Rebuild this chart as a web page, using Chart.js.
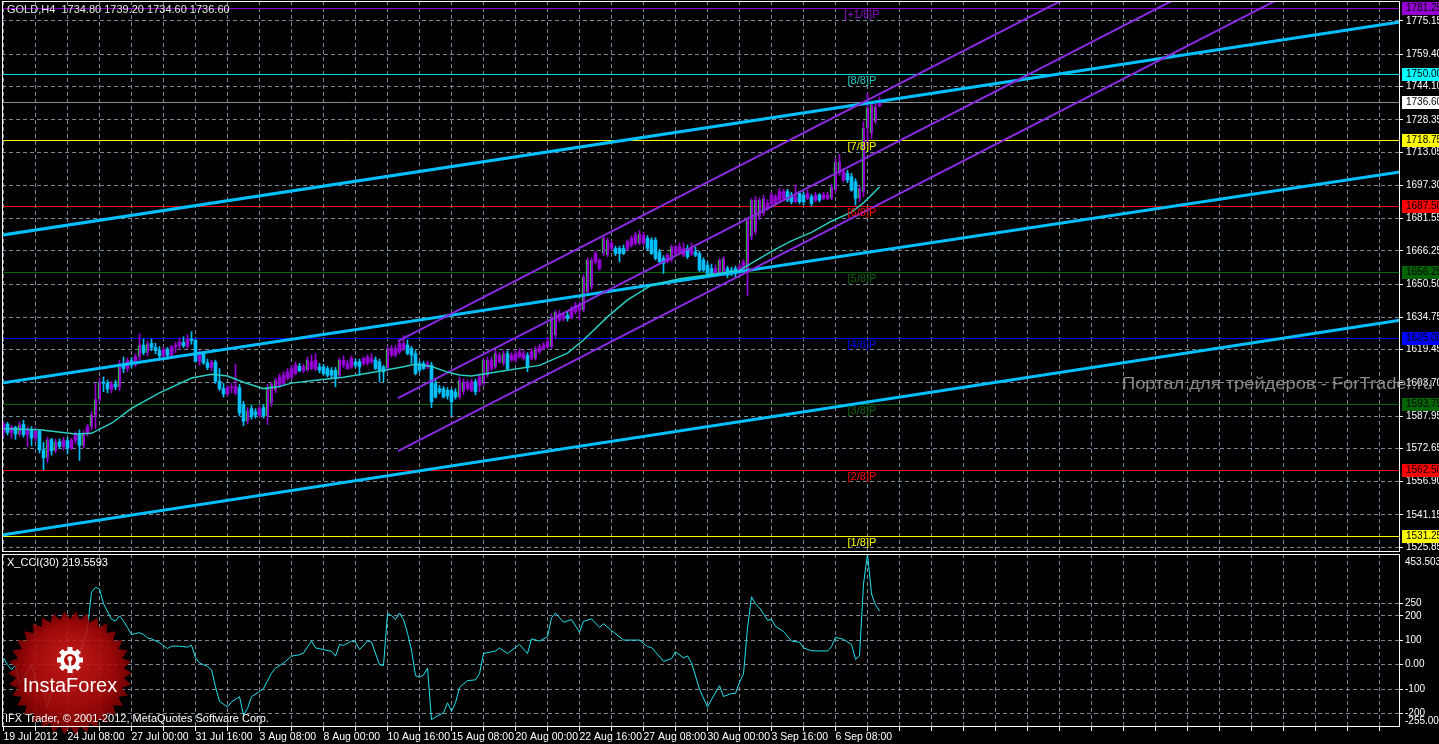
<!DOCTYPE html>
<html>
<head>
<meta charset="utf-8">
<script src="https://cdn.jsdelivr.net/npm/chart.js@4.4.1/dist/chart.umd.min.js"></script>
<style>
  html, body { margin: 0; padding: 0; background: #000; overflow: hidden; }
  #wrap { position: relative; width: 1439px; height: 744px; }
  canvas { position: absolute; left: 0; }
  #price { top: 0; }
  #cci { top: 553px; }
</style>
</head>
<body>
<div id="wrap">
  <canvas id="price" width="1439" height="553"></canvas>
  <canvas id="cci" width="1439" height="191"></canvas>
</div>
<script>
// GOLD H4 bars, 19 Jul 2012 -> 7 Sep 2012 (bar index 0..219)
const opens = [
  1580.5,1584.2,1580.2,1582.6,1579.4,1584.0,1579.2,1581.6,1577.6,1580.8,
  1572.0,1568.2,1576.8,1571.5,1575.8,1573.6,1576.4,1572.8,1576.5,1579.2,
  1574.0,1579.8,1583.0,1588.5,1596.0,1604.2,1603.5,1600.8,1603.2,1601.8,
  1612.8,1610.5,1614.2,1612.5,1616.2,1621.5,1618.0,1622.4,1620.5,1619.0,
  1616.5,1619.6,1616.8,1620.8,1621.5,1623.0,1621.2,1624.5,1623.8,1614.0,
  1617.5,1613.2,1611.0,1613.5,1604.5,1601.0,1598.5,1601.5,1599.0,1601.5,
  1593.5,1585.5,1591.5,1590.0,1588.5,1592.0,1588.2,1594.0,1600.2,1602.5,
  1603.5,1605.8,1606.5,1608.1,1611.5,1609.5,1609.7,1610.5,1610.5,1611.3,
  1611.3,1610.5,1609.7,1609.7,1607.3,1612.1,1610.5,1611.3,1613.7,1613.7,
  1612.9,1612.9,1613.7,1614.5,1613.7,1611.3,1610.5,1616.8,1617.0,1618.4,
  1620.0,1621.6,1620.0,1617.6,1612.9,1612.9,1611.3,1612.1,1603.4,1601.0,
  1601.0,1600.2,1600.2,1599.4,1597.0,1599.5,1601.0,1600.2,1604.2,1602.6,
  1603.4,1607.3,1610.5,1611.3,1613.7,1612.9,1617.6,1614.5,1614.5,1616.0,
  1615.3,1616.8,1615.3,1615.3,1618.4,1620.0,1620.8,1620.8,1626.3,1633.4,
  1634.2,1635.8,1635.0,1637.4,1638.2,1638.2,1646.8,1649.2,1661.0,1657.9,
  1665.0,1664.2,1667.4,1667.4,1667.4,1667.4,1667.4,1669.0,1669.8,1669.8,
  1669.8,1672.2,1671.4,1671.4,1665.8,1662.7,1661.1,1661.9,1665.0,1665.8,
  1664.2,1667.4,1665.0,1665.8,1665.0,1661.9,1659.5,1657.9,1655.5,1655.5,
  1655.5,1657.9,1657.1,1657.9,1656.3,1657.1,1657.1,1672.9,1675.3,1682.4,
  1684.0,1686.4,1688.7,1688.7,1690.3,1691.1,1694.3,1692.7,1689.5,1693.5,
  1692.7,1691.1,1691.9,1690.3,1692.7,1691.1,1691.1,1691.1,1695.0,1703.0,
  1699.8,1703.0,1701.4,1699.0,1691.1,1694.3,1724.5,1722.0,1727.4,1734.8
];
const highs = [
  1585.5,1585.0,1583.5,1583.2,1585.2,1586.0,1582.8,1583.0,1582.5,1581.5,
  1575.5,1578.0,1577.5,1577.0,1577.2,1577.8,1578.0,1577.5,1580.5,1581.5,
  1581.0,1584.0,1590.0,1603.5,1606.0,1606.5,1605.0,1604.5,1605.0,1614.5,
  1616.0,1615.5,1615.8,1617.5,1627.0,1624.5,1623.5,1624.5,1622.5,1621.0,
  1620.5,1620.5,1621.5,1623.0,1625.0,1625.5,1626.5,1628.0,1624.5,1619.0,
  1618.5,1615.0,1614.5,1614.5,1610.5,1603.5,1602.5,1603.5,1612.5,1603.0,
  1595.0,1592.0,1593.0,1591.5,1593.0,1593.5,1603.0,1604.0,1606.0,1608.0,
  1609.0,1610.5,1612.0,1613.5,1613.0,1612.5,1616.0,1617.0,1617.6,1613.0,
  1612.5,1611.5,1611.0,1611.0,1615.5,1616.5,1614.5,1616.5,1615.0,1615.0,
  1616.0,1617.0,1617.5,1616.0,1615.0,1612.0,1621.0,1621.5,1621.5,1623.5,
  1626.0,1624.0,1621.0,1619.0,1614.0,1614.0,1614.0,1613.5,1605.0,1602.5,
  1602.0,1601.5,1601.0,1601.0,1606.5,1605.5,1605.0,1605.5,1605.5,1608.0,
  1615.0,1616.0,1616.0,1619.0,1618.0,1619.0,1619.0,1618.0,1619.0,1620.0,
  1619.0,1618.0,1620.0,1621.0,1622.0,1623.0,1625.0,1636.5,1638.0,1638.0,
  1637.0,1637.5,1640.0,1642.0,1642.0,1655.0,1663.0,1663.0,1666.0,1662.5,
  1673.0,1672.5,1671.0,1668.5,1668.5,1669.0,1671.5,1673.5,1675.0,1676.0,
  1675.0,1673.5,1672.5,1672.5,1667.0,1664.0,1665.0,1669.0,1669.0,1670.0,
  1670.0,1669.0,1670.0,1668.0,1666.0,1663.0,1661.0,1660.0,1659.5,1662.5,
  1663.5,1659.0,1658.5,1659.0,1660.0,1662.0,1682.0,1691.0,1692.0,1691.5,
  1692.5,1690.5,1694.0,1693.0,1696.0,1695.5,1695.5,1694.0,1697.5,1694.5,
  1694.0,1695.0,1693.0,1694.0,1693.5,1694.0,1694.0,1698.0,1710.0,1712.0,
  1705.0,1704.5,1703.0,1700.5,1697.0,1727.5,1741.0,1737.0,1737.5,1739.2
];
const lows = [
  1578.5,1579.0,1577.5,1577.0,1578.5,1578.0,1573.5,1574.0,1576.0,1570.5,
  1562.5,1566.0,1569.5,1570.5,1572.5,1572.0,1570.0,1572.0,1575.0,1567.0,
  1573.0,1578.5,1581.5,1582.0,1594.5,1599.5,1599.0,1599.0,1600.5,1600.0,
  1608.5,1609.0,1611.0,1611.5,1614.5,1617.0,1616.5,1619.0,1617.5,1614.5,
  1615.5,1615.0,1615.5,1618.0,1619.5,1620.5,1620.0,1622.0,1613.5,1612.0,
  1612.5,1610.0,1609.5,1603.5,1600.0,1597.0,1597.5,1599.0,1598.0,1588.0,
  1583.5,1584.5,1586.5,1587.0,1587.5,1587.0,1584.0,1592.5,1599.0,1601.5,
  1602.5,1605.0,1605.5,1607.5,1609.0,1608.5,1609.0,1610.0,1609.5,1608.5,
  1607.5,1606.5,1606.0,1601.8,1606.5,1611.0,1610.0,1610.5,1611.0,1607.3,
  1612.0,1612.0,1613.0,1610.0,1604.2,1604.2,1609.5,1616.0,1616.0,1617.5,
  1619.0,1617.0,1612.9,1607.5,1609.0,1610.0,1610.5,1592.0,1596.5,1598.5,
  1596.5,1596.0,1588.4,1596.0,1596.0,1598.0,1600.0,1599.5,1598.0,1599.5,
  1602.5,1606.5,1609.5,1610.5,1613.0,1612.0,1610.0,1614.0,1613.5,1615.5,
  1614.5,1609.0,1614.5,1614.5,1617.5,1619.5,1620.0,1620.0,1625.0,1632.5,
  1633.0,1633.0,1634.0,1636.5,1633.4,1637.5,1646.0,1648.0,1660.0,1657.0,
  1664.0,1663.5,1666.5,1664.0,1661.0,1664.5,1666.5,1668.0,1669.0,1669.0,
  1669.0,1666.5,1664.5,1662.0,1660.5,1655.5,1660.5,1661.0,1664.5,1665.0,
  1663.5,1662.5,1664.0,1663.5,1656.5,1656.5,1655.0,1655.0,1655.0,1654.5,
  1654.5,1653.5,1654.5,1654.0,1655.5,1656.5,1645.0,1671.5,1674.0,1681.0,
  1683.0,1685.5,1688.0,1688.0,1689.5,1690.5,1689.5,1688.5,1689.0,1688.5,
  1688.0,1690.5,1687.5,1689.5,1689.5,1690.5,1690.5,1690.5,1694.0,1702.0,
  1699.0,1698.5,1694.5,1687.9,1689.5,1692.0,1716.0,1719.5,1726.5,1734.6
];
const closes = [
  1584.2,1580.2,1582.6,1579.4,1584.0,1579.2,1581.6,1577.6,1580.8,1572.0,
  1568.2,1576.8,1571.5,1575.8,1573.6,1576.4,1572.8,1576.5,1579.2,1574.0,
  1579.8,1583.0,1588.5,1596.0,1604.2,1603.5,1600.8,1603.2,1601.8,1612.8,
  1610.5,1614.2,1612.5,1616.2,1621.5,1618.0,1622.4,1620.5,1619.0,1616.5,
  1619.6,1616.8,1620.8,1621.5,1623.0,1621.2,1624.5,1623.8,1614.0,1617.5,
  1613.2,1611.0,1613.5,1604.5,1601.0,1598.5,1601.5,1601.8,1602.0,1589.5,
  1585.5,1590.5,1587.8,1588.5,1591.5,1588.2,1601.8,1603.4,1605.0,1606.5,
  1607.3,1608.9,1610.5,1612.1,1609.5,1611.5,1614.5,1613.7,1614.5,1609.7,
  1608.1,1607.3,1607.3,1605.8,1614.5,1614.5,1612.9,1615.3,1612.1,1611.3,
  1615.3,1616.0,1615.3,1610.5,1609.7,1608.9,1620.0,1620.0,1620.0,1622.4,
  1622.4,1617.6,1616.8,1608.1,1609.7,1610.5,1612.9,1594.7,1597.0,1599.4,
  1597.0,1597.5,1594.7,1597.0,1605.0,1604.2,1603.8,1604.2,1599.5,1606.5,
  1614.5,1614.5,1614.5,1617.6,1616.8,1617.6,1610.5,1616.8,1617.6,1618.4,
  1617.6,1611.3,1618.4,1620.0,1620.8,1621.6,1623.2,1635.0,1637.4,1636.6,
  1635.8,1634.2,1639.0,1640.5,1640.5,1654.0,1661.9,1661.9,1665.0,1661.9,
  1672.2,1671.4,1669.8,1665.0,1665.0,1665.0,1670.6,1672.2,1673.7,1674.5,
  1673.7,1667.4,1665.0,1662.7,1661.1,1660.3,1664.2,1668.2,1668.2,1668.2,
  1667.4,1663.5,1667.4,1664.2,1657.1,1657.1,1655.5,1655.5,1657.9,1661.9,
  1662.7,1654.8,1655.5,1655.5,1658.7,1661.1,1680.8,1690.3,1690.3,1690.3,
  1691.1,1688.7,1692.7,1691.9,1694.3,1694.3,1690.3,1689.5,1691.9,1689.5,
  1689.5,1693.5,1688.7,1692.7,1690.3,1692.7,1692.7,1696.6,1708.5,1708.5,
  1703.8,1699.8,1695.0,1691.1,1695.8,1724.5,1734.0,1735.3,1734.5,1736.6
];

// moving average (bar index, price)
const maBars = [0,9,18,22,27,32,39,47,52,56, 60,65,69,72,78,85,91,99,103,107,
  111,114,117,126,134,141,145,151,156,162, 169,176,184,192,197,202,207,212,215,219];
const maValues = [1582,1581.5,1579.5,1579.8,1584.6,1591.6,1599,1606,1607.8,1607,
  1604,1601,1602,1603.6,1605,1606.4,1608.3,1611,1612.5,1611.5,
  1608.8,1607.4,1607,1609.7,1612,1617.8,1624,1635,1643,1650,
  1653,1654.8,1657,1666,1671,1675,1680.3,1684.6,1689,1696.5];

// X_CCI(30) (bar index, value)
const cciBars = [0,1,2,3,4,5,7,8,10,11, 12,14,16,17,19,21,22,23,24,25,
  27,28,29,30,31,32,34,35,36,37, 39,41,42,44,46,47,48,49,51,52,
  53,54,56,57,59,60,61,62,64,65, 67,68,70,72,74,75,77,78,80,82,
  83,84,85,87,88,89,91,92,94,95, 96,97,98,99,100,101,102,103,104,105,
  106,107,108,110,111,112,113,114,116,118, 119,120,122,123,124,126,129,131,132,134,
  136,137,138,140,142,144,145,147,149,150, 152,155,159,161,162,165,167,168,170,171,
  172,174,176,177,179,180,182,183,184,185, 186,187,188,189,191,192,193,195,197,199,
  200,202,206,207,208,210,212,213,214,215, 216,217,218,219];
const cciValues = [28,0,-20,0,-76,-55,0,-62,-104,-173, -104,-76,-62,-48,35,150,297,317,310,250,
  186,179,200,179,152,124,131,124,110,106, 90,66,76,76,72,80,28,7,-7,-21,
  -90,-150,-173,-152,-131,-207,-179,-131,-110,-97, -35,-14,7,35,41,48,97,69,62,55,
  35,83,79,97,93,62,97,93,0,-3, 210,201,185,212,185,129,60,-44,-51,-42,
  -14,-225,-214,-197,-156,-190,-156,-93,-65,-62, -37,46,53,56,69,46,83,46,106,97,
  115,192,212,174,185,133,178,188,153,168, 140,101,101,74,71,14,25,53,28,36,
  8,-100,-174,-142,-86,-130,-118,-117,-72,-37, 150,278,250,233,183,185,157,136,97,92,
  69,57,56,74,112,104,83,22,36,330, 453.5,290,245,219.5593];

// trend lines drawn on the chart: [bar, price] end points
const blueLines = [
  [[-0.4, 1673.7], [349.1, 1774.7]],
  [[-0.4, 1603.6], [349.1, 1703.6]],
  [[-0.4, 1531.6], [349.1, 1633.4]]
];
const purpleLines = [
  [[98.6, 1623.5], [349.1, 1867.1]],
  [[98.6, 1596.5], [349.1, 1840.1]],
  [[98.6, 1571.4], [349.1, 1815.0]]
];

// Murrey math levels
const murreyLevels = [1781.25, 1750.00, 1718.75, 1687.50, 1656.25, 1625.00, 1593.75, 1562.50, 1531.25];
const murreyLabels = ['[+1/8]P', '[8/8]P', '[7/8]P', '[6/8]P', '[5/8]P', '[4/8]P', '[3/8]P', '[2/8]P', '[1/8]P'];
const murreyLineColors = ['#9400d3', '#00e0e0', '#ffff00', '#ff0000', '#0a640a', '#0000ff', '#0a640a', '#ff0000', '#ffff00'];
const murreyBoxColors  = ['#9400d3', '#00ffff', '#ffff00', '#ff0000', '#006400', '#0000ff', '#006400', '#ff0000', '#ffff00'];
const murreyTextColors = ['#8a10c8', '#20c8c8', '#ffff00', '#ff0000', '#0a640a', '#0000ff', '#0a640a', '#ff0000', '#ffff00'];

// axis ticks
const priceTicks = [1775.15, 1759.40, 1744.10, 1728.35, 1713.05, 1697.30, 1681.55, 1666.25, 1650.50,
  1634.75, 1619.45, 1603.70, 1587.95, 1572.65, 1556.90, 1541.15, 1525.85];
const priceMin = 1523.6, priceMax = 1784.62;
const cciTicks = [250, 200, 100, 0, -100, -200];
const cciMin = -255.001, cciMax = 453.503;
const timeTickBars = [0, 16, 32, 48, 64, 80, 96, 112, 128, 144, 160, 176, 192, 208];
const timeLabels = ['19 Jul 2012', '24 Jul 08:00', '27 Jul 00:00', '31 Jul 16:00', '3 Aug 08:00', '8 Aug 00:00',
  '10 Aug 16:00', '15 Aug 08:00', '20 Aug 00:00', '22 Aug 16:00', '27 Aug 08:00', '30 Aug 00:00', '3 Sep 16:00', '6 Sep 08:00'];

const FONT = '"Liberation Sans", Arial, sans-serif';
Chart.defaults.font.family = FONT;
Chart.defaults.font.size = 10;
Chart.defaults.color = '#ffffff';
Chart.defaults.animation = false;

const GRID = '#778899';
const BULL = '#9400d3';
const BEAR = '#00bfff';
const xMin = -0.375, xMax = 349.125;
const murreyLabelBar = 214.6;

const gridBars = [];
for (let b = 0; b <= 344; b += 8) gridBars.push(b);

const last = closes.length - 1;
const isBull = i => closes[i] >= opens[i];
// the terminal shows the lime bar-up edge on the longer white candles
const showEdge = i => isBull(i) && closes[i] - opens[i] > 4;

function xAxis(withLabels) {
  return {
    type: 'linear', min: xMin, max: xMax, offset: false,
    grid: { color: GRID, offset: false, drawTicks: withLabels, tickLength: 4, tickColor: '#ffffff' },
    border: { display: false, dash: [4, 3] },
    ticks: {
      display: withLabels, autoSkip: false, maxRotation: 0, minRotation: 0, align: 'start', padding: 0,
      color: '#ffffff', font: { size: 10.5 },
      callback: v => { const k = timeTickBars.indexOf(v); return k >= 0 ? timeLabels[k] : ''; }
    },
    afterBuildTicks: s => { s.ticks = gridBars.map(v => ({ value: v })); },
    afterFit: s => { s.height = withLabels ? 17 : 0; s.paddingLeft = 0; s.paddingRight = 0; }
  };
}

function lineSet(seg, color, width, order) {
  return {
    type: 'line', data: seg.map(p => ({ x: p[0], y: p[1] })),
    borderColor: color, borderWidth: width, pointRadius: 0, tension: 0, order: order, clip: 0
  };
}

function frame(ctx, a) {
  ctx.save();
  ctx.strokeStyle = '#ffffff';
  ctx.lineWidth = 1;
  ctx.strokeRect(a.left + 0.5, a.top + 0.5, a.right - a.left - 1, a.bottom - a.top - 1);
  ctx.restore();
}

const priceDecor = {
  id: 'priceDecor',
  beforeDatasetsDraw(chart) {
    const { ctx, chartArea: a, scales: { y } } = chart;
    ctx.save();
    ctx.lineWidth = 1;
    murreyLevels.forEach((lv, k) => {
      const py = Math.round(y.getPixelForValue(lv)) + 0.5;
      ctx.strokeStyle = murreyLineColors[k];
      ctx.beginPath(); ctx.moveTo(a.left, py); ctx.lineTo(a.right, py); ctx.stroke();
    });
    const by = Math.round(y.getPixelForValue(closes[last])) + 0.5;
    ctx.strokeStyle = '#8c8c8c';
    ctx.beginPath(); ctx.moveTo(a.left, by); ctx.lineTo(a.right, by); ctx.stroke();
    ctx.restore();
  },
  afterDatasetsDraw(chart) {
    const { ctx, scales: { x, y } } = chart;
    ctx.save();
    ctx.font = '11px ' + FONT;
    ctx.textAlign = 'center';
    ctx.textBaseline = 'middle';
    const lx = x.getPixelForValue(murreyLabelBar);
    murreyLevels.forEach((lv, k) => {
      ctx.fillStyle = murreyTextColors[k];
      ctx.fillText(murreyLabels[k], lx, y.getPixelForValue(lv) + 7);
    });
    ctx.restore();
  },
  afterDraw(chart) {
    const { ctx, chartArea: a, scales: { y } } = chart;
    frame(ctx, a);
    ctx.save();
    ctx.font = '10px ' + FONT;
    ctx.textBaseline = 'middle';
    ctx.textAlign = 'left';
    const box = (val, bg) => {
      const py = Math.round(y.getPixelForValue(val));
      ctx.fillStyle = bg;
      ctx.fillRect(a.right + 2, py - 6, 40, 13);
      ctx.fillStyle = '#000000';
      ctx.fillText(val.toFixed(2), a.right + 6, py + 0.5);
    };
    murreyLevels.forEach((lv, k) => box(lv, murreyBoxColors[k]));
    box(closes[last], '#ffffff');

    // title
    ctx.font = '11px ' + FONT;
    ctx.fillStyle = '#e6e6e6';
    ctx.fillText('GOLD,H4  ' + [opens[last], highs[last], lows[last], closes[last]].map(v => v.toFixed(2)).join(' '), a.left + 5, 10);

    // watermark, stretched to the width it has in the terminal
    const mark = 'Портал для трейдеров - ForTrader.ru';
    ctx.font = '17px ' + FONT;
    const w = ctx.measureText(mark).width;
    ctx.translate(1122, 384);
    ctx.scale(311 / w, 1);
    ctx.fillStyle = 'rgba(150,150,150,0.9)';
    ctx.fillText(mark, 0, 0);
    ctx.restore();
  }
};

function drawLogo(ctx, cx, cy) {
  ctx.save();
  const spikes = 34;
  ctx.beginPath();
  for (let k = 0; k < spikes * 2; k++) {
    const r = k % 2 === 0 ? 62 : 54;
    const ang = Math.PI * k / spikes;
    const px = cx + r * Math.cos(ang), py = cy + r * Math.sin(ang);
    if (k === 0) ctx.moveTo(px, py); else ctx.lineTo(px, py);
  }
  ctx.closePath();
  const g = ctx.createRadialGradient(cx, cy - 18, 4, cx, cy, 62);
  g.addColorStop(0, 'rgba(215,28,28,0.88)');
  g.addColorStop(0.65, 'rgba(178,10,10,0.88)');
  g.addColorStop(1, 'rgba(125,0,0,0.88)');
  ctx.fillStyle = g;
  ctx.fill();

  // gear mark
  const gx = cx, gy = cy - 13;
  ctx.fillStyle = '#ffffff';
  for (let k = 0; k < 8; k++) {
    ctx.save();
    ctx.translate(gx, gy);
    ctx.rotate(k * Math.PI / 4);
    ctx.fillRect(-2.5, -13, 5, 5);
    ctx.restore();
  }
  ctx.beginPath(); ctx.arc(gx, gy, 10, 0, Math.PI * 2); ctx.fill();
  ctx.fillStyle = '#b40a0a';
  ctx.beginPath(); ctx.arc(gx, gy, 6, 0, Math.PI * 2); ctx.fill();
  ctx.fillStyle = '#ffffff';
  ctx.beginPath(); ctx.arc(gx, gy - 1.5, 2.5, 0, Math.PI * 2); ctx.fill();
  ctx.fillRect(gx - 1.2, gy, 2.4, 10);

  ctx.font = '20px ' + FONT;
  ctx.textAlign = 'center';
  ctx.textBaseline = 'alphabetic';
  ctx.fillText('InstaForex', cx, cy + 19);
  ctx.restore();
}

const cciDecor = {
  id: 'cciDecor',
  afterDatasetsDraw(chart) {
    drawLogo(chart.ctx, 70, 120);
  },
  afterDraw(chart) {
    const { ctx, chartArea: a } = chart;
    frame(ctx, a);
    ctx.save();
    ctx.font = '10px ' + FONT;
    ctx.textBaseline = 'middle';
    ctx.textAlign = 'left';
    ctx.fillStyle = '#ffffff';
    ctx.fillText(String(cciMax), a.right + 5, a.top + 8);
    ctx.fillText(String(cciMin), a.right + 5, a.bottom - 6);
    ctx.font = '11px ' + FONT;
    ctx.fillText('X_CCI(30) ' + cciValues[cciValues.length - 1], a.left + 5, a.top + 9);
    ctx.fillText('IFX Trader, © 2001-2012, MetaQuotes Software Corp.', a.left + 3, a.bottom - 8);
    ctx.restore();
  }
};

new Chart(document.getElementById('price'), {
  type: 'line',
  data: {
    datasets: [
      { type: 'line', data: maBars.map((b, k) => ({ x: b, y: maValues[k] })),
        borderColor: '#28cfc3', borderWidth: 1.5, pointRadius: 0, tension: 0, order: 0, clip: 0 },
      ...purpleLines.map(seg => lineSet(seg, '#8a2be2', 2, 1)),
      ...blueLines.map(seg => lineSet(seg, '#00bfff', 3, 2)),
      {
        type: 'bar', order: 3, grouped: false, barThickness: 3, minBarLength: 1,
        data: opens.map((o, i) => ({ x: i, y: [o, closes[i]] })),
        backgroundColor: c => isBull(c.dataIndex) ? BULL : BEAR,
        borderColor: '#00ff00',
        borderWidth: c => showEdge(c.dataIndex) ? { left: 1, right: 0, top: 0, bottom: 0 } : 0,
        borderSkipped: false
      },
      {
        type: 'bar', order: 4, grouped: false, barThickness: 1,
        data: lows.map((l, i) => ({ x: i, y: [l, highs[i]] })),
        backgroundColor: c => isBull(c.dataIndex) ? BULL : BEAR
      }
    ]
  },
  options: {
    responsive: false,
    events: [],
    layout: { padding: { left: 2, top: 1, right: 0, bottom: 1 } },
    plugins: { legend: { display: false }, tooltip: { enabled: false } },
    scales: {
      x: xAxis(false),
      y: {
        position: 'right', min: priceMin, max: priceMax,
        grid: { color: GRID, tickLength: 3, tickColor: '#ffffff' },
        border: { display: false, dash: [4, 3] },
        ticks: { autoSkip: false, padding: 3, color: '#ffffff', callback: v => v.toFixed(2) },
        afterBuildTicks: s => { s.ticks = priceTicks.map(v => ({ value: v })); },
        afterFit: s => { s.width = 39; s.paddingTop = 0; s.paddingBottom = 0; }
      }
    }
  },
  plugins: [priceDecor]
});

new Chart(document.getElementById('cci'), {
  type: 'line',
  data: {
    datasets: [
      { data: cciBars.map((b, k) => ({ x: b, y: cciValues[k] })),
        borderColor: '#1fe3ee', borderWidth: 1, pointRadius: 0, tension: 0, clip: 0 }
    ]
  },
  options: {
    responsive: false,
    events: [],
    layout: { padding: { left: 2, top: 1, right: 0, bottom: 0 } },
    plugins: { legend: { display: false }, tooltip: { enabled: false } },
    scales: {
      x: xAxis(true),
      y: {
        position: 'right', min: cciMin, max: cciMax,
        grid: { color: GRID, tickLength: 3, tickColor: '#ffffff' },
        border: { display: false, dash: [4, 3] },
        ticks: { autoSkip: false, padding: 2, color: '#ffffff', callback: v => v === 0 ? '0.00' : String(v) },
        afterBuildTicks: s => { s.ticks = cciTicks.map(v => ({ value: v })); },
        afterFit: s => { s.width = 39; s.paddingTop = 0; s.paddingBottom = 0; }
      }
    }
  },
  plugins: [cciDecor]
});
</script>
</body>
</html>
